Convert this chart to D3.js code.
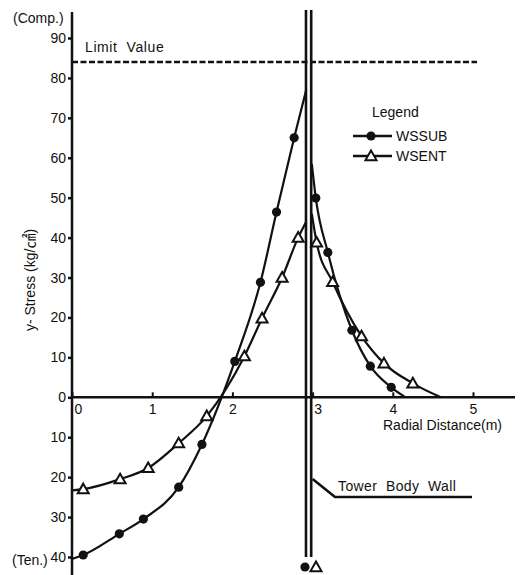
<!DOCTYPE html>
<html><head><meta charset="utf-8">
<script src="https://cdn.jsdelivr.net/npm/d3@7"></script>
<style>
html,body{margin:0;padding:0;background:#fff;}
svg text{font-family:"Liberation Sans",Arial,sans-serif;fill:#111;}
</style></head>
<body><svg id="c" width="530" height="575"></svg>
<script>
// ---- data ----
const yTicks = [90,80,70,60,50,40,30,20,10,0,-10,-20,-30,-40];
const xTicks = [0,1,2,3,4,5];
const limitValue = 84;
const wallPos = 2.95;
// WSSUB (filled circles) markers
const wssubLeftX = [0.14,0.59,0.89,1.33,1.62,2.03,2.35,2.55,2.77];
const wssubLeftY = [-39.5,-34.2,-30.5,-22.5,-11.8,9.0,28.8,46.4,65.0];
const wssubRightX = [3.04,3.19,3.49,3.72,3.98];
const wssubRightY = [49.9,36.3,16.8,7.8,2.5];
// WSENT (open triangles) markers
const wsentLeftX = [0.14,0.60,0.95,1.33,1.68,2.15,2.37,2.62,2.82];
const wsentLeftY = [-23.0,-20.5,-17.7,-11.5,-4.7,10.3,19.8,30.0,40.0];
const wsentRightX = [3.05,3.25,3.61,3.89,4.25];
const wsentRightY = [38.8,28.9,15.3,8.5,3.5];
// curve end points (no markers)
const wssubLeftEnds = [[0,-40.5],[2.92,77]];
const wssubRightEnds = [[2.99,58.5],[4.16,0]];
const wsentLeftEnds = [[0,-23.3],[2.92,44]];
const wsentRightEnds = [[2.99,46],[4.6,0]];
const seriesNames = ["WSSUB","WSENT"];

// ---- scales ----
const x = d3.scaleLinear().domain([0,5]).range([72,473]);
const y = d3.scaleLinear().domain([-40,90]).range([557,38]);
const svg = d3.select("#c");
const black = "#111";

// limit value line
svg.append("line").attr("x1",x(0)).attr("x2",x(5.05)).attr("y1",y(limitValue)).attr("y2",y(limitValue))
  .attr("stroke",black).attr("stroke-width",2.5).attr("stroke-dasharray","6,2.5");
svg.append("text").attr("x",85).attr("y",52).attr("font-size",14).attr("letter-spacing",0.6)
  .style("white-space","pre").text("Limit  Value");

// y axis
const yAxis = d3.axisLeft(y).tickValues(yTicks).tickSizeOuter(0).tickSizeInner(4).tickPadding(2)
  .tickFormat(d=>Math.abs(d));
const gy = svg.append("g").attr("transform",`translate(${x(0)},0)`).call(yAxis);
gy.select(".domain").remove();
gy.selectAll(".tick line").attr("stroke",black).attr("stroke-width",2.5);
gy.selectAll(".tick text").attr("font-size",14).attr("fill",black).attr("font-family","Liberation Sans, Arial, sans-serif");
svg.append("line").attr("x1",x(0)).attr("x2",x(0)).attr("y1",12).attr("y2",575)
  .attr("stroke",black).attr("stroke-width",2.5);

// x axis
const xAxis = d3.axisBottom(x).tickValues(xTicks).tickSizeOuter(0).tickSizeInner(-5).tickPadding(7)
  .tickFormat(d3.format("d"));
const gx = svg.append("g").attr("transform",`translate(0,${y(0)})`).call(xAxis);
gx.select(".domain").remove();
gx.selectAll(".tick line").attr("stroke",black).attr("stroke-width",2);
gx.selectAll(".tick text").attr("font-size",14).attr("fill",black).attr("font-family","Liberation Sans, Arial, sans-serif")
  .attr("dx",d=> d===0 ? 6 : d===3 ? 5 : 0);
svg.append("line").attr("x1",x(0)).attr("x2",515).attr("y1",y(0)).attr("y2",y(0))
  .attr("stroke",black).attr("stroke-width",2.5);

// axis titles
svg.append("text").attr("x",13).attr("y",23).attr("font-size",14).text("(Comp.)");
svg.append("text").attr("x",12).attr("y",565).attr("font-size",14).text("(Ten.)");
const yt = svg.append("text").attr("transform","translate(35,280) rotate(-90)").attr("text-anchor","middle")
  .attr("font-size",14).style("white-space","pre");
yt.append("tspan").text("y- Stress (kg/");
yt.append("tspan").attr("font-family","Noto Sans CJK JP, Noto Sans CJK SC, sans-serif").attr("font-size",15).text("㎠");
yt.append("tspan").text(")");
svg.append("text").attr("x",383).attr("y",430).attr("font-size",14).text("Radial Distance(m)");

// tower wall
const wx = x(wallPos);
[-2.6,2.6].forEach(o=>{
  svg.append("line").attr("x1",wx+o).attr("x2",wx+o).attr("y1",10).attr("y2",557)
    .attr("stroke",black).attr("stroke-width",2.6);
});
svg.append("polyline").attr("points",`${wx+4},479 335,497 472,497`).attr("fill","none")
  .attr("stroke",black).attr("stroke-width",2.6);
svg.append("text").attr("x",338).attr("y",491).attr("font-size",14).attr("letter-spacing",0.4)
  .style("white-space","pre").text("Tower  Body  Wall");

// curves
const line = d3.line().x(d=>x(d[0])).y(d=>y(d[1])).curve(d3.curveMonotoneX);
function zip(xs,ys){return xs.map((v,i)=>[v,ys[i]]);}
function drawSeries(xs,ys,ends,marker){
  const pts = zip(xs,ys);
  const all = [ends[0],...pts,ends[1]];
  svg.append("path").attr("d",line(all)).attr("fill","none").attr("stroke",black).attr("stroke-width",2.2);
  pts.forEach(p=>drawMarker(x(p[0]),y(p[1]),marker));
}
function drawMarker(cx,cy,marker){
  if(marker==="circle"){
    svg.append("circle").attr("cx",cx).attr("cy",cy).attr("r",4.6).attr("fill",black);
  } else {
    const s=5.5;
    svg.append("path").attr("d",`M${cx},${cy-s}L${cx+s},${cy+s*0.75}L${cx-s},${cy+s*0.75}Z`)
      .attr("fill","#fff").attr("stroke",black).attr("stroke-width",2);
  }
}
drawSeries(wssubLeftX,wssubLeftY,wssubLeftEnds,"circle");
drawSeries(wssubRightX,wssubRightY,wssubRightEnds,"circle");
drawSeries(wsentLeftX,wsentLeftY,wsentLeftEnds,"tri");
drawSeries(wsentRightX,wsentRightY,wsentRightEnds,"tri");

// markers under wall
drawMarker(305,567,"circle");
drawMarker(316,567,"tri");

// legend
svg.append("text").attr("x",372).attr("y",117).attr("font-size",14).text("Legend");
seriesNames.forEach((n,i)=>{
  const ly = 136 + i*20;
  svg.append("line").attr("x1",353).attr("x2",392).attr("y1",ly).attr("y2",ly).attr("stroke",black).attr("stroke-width",2.4);
  drawMarker(371,ly,i===0?"circle":"tri");
  svg.append("text").attr("x",396).attr("y",ly+5).attr("font-size",14).text(n);
});
</script></body></html>
